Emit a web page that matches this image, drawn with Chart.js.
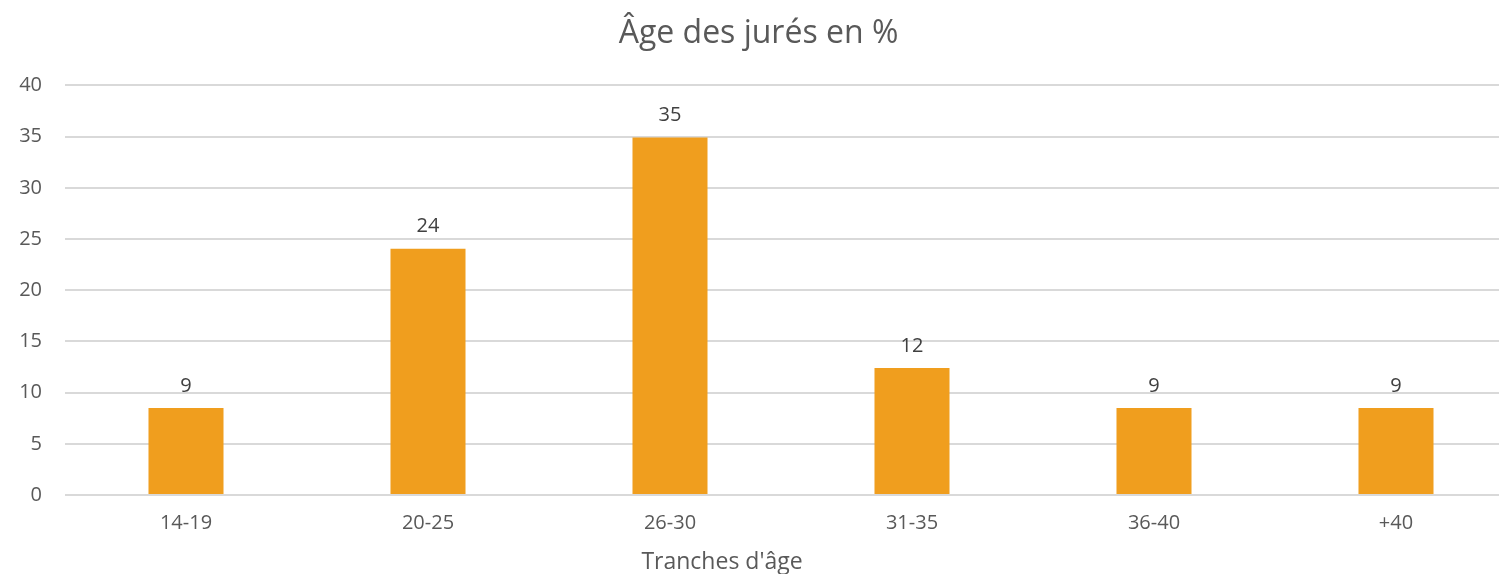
<!DOCTYPE html>
<html>
<head>
<meta charset="utf-8">
<script src="https://cdn.jsdelivr.net/npm/chart.js@4"></script>
<style>
  html, body { margin: 0; padding: 0; background: #fff; overflow: hidden; }
  #wrap { width: 1499px; height: 574px; overflow: hidden; }
</style>
</head>
<body>
<div id="wrap"><canvas id="myChart" width="1517" height="574"></canvas></div>
<script>
// data
const ageGroups = ['14-19', '20-25', '26-30', '31-35', '36-40', '+40'];
const jurorShare = [8.5, 24.05, 34.9, 12.4, 8.5, 8.5];
const yTicks = [0, 5, 10, 15, 20, 25, 30, 35, 40];
const xTitle = "Tranches d'âge";

const textColor = '#595959';
const fontName = "'Open Sans', 'Liberation Sans', sans-serif";

// draws the rounded value above each bar, plus the x axis title
// (the x title sits left of the plot centre in the original, so it is drawn by hand)
const barLabels = {
  id: 'barLabels',
  afterDatasetsDraw(chart) {
    const ctx = chart.ctx;
    const meta = chart.getDatasetMeta(0);
    ctx.save();
    ctx.font = '20px ' + fontName;
    ctx.fillStyle = '#404040';
    ctx.textAlign = 'center';
    ctx.textBaseline = 'bottom';
    meta.data.forEach((bar, i) => {
      let val = Math.round(chart.data.datasets[0].data[i]);
      ctx.fillText(val, bar.x, bar.y - 12);
    });

    const xScale = chart.scales.x;
    ctx.font = '23px ' + fontName;
    ctx.fillStyle = textColor;
    ctx.textBaseline = 'middle';
    ctx.fillText(xTitle, 722, xScale.bottom + 19.5);
    ctx.restore();
  }
};

const data = {
  labels: ageGroups,
  datasets: [{
    label: 'Âge des jurés en %',
    data: jurorShare,
    backgroundColor: '#F09E1E',
    borderWidth: 0,
    barPercentage: 0.31,
    categoryPercentage: 1
  }]
};

const config = {
  type: 'bar',
  data: data,
  plugins: [barLabels],
  options: {
    responsive: false,
    animation: false,
    layout: { padding: { left: 0, right: 0, top: 0, bottom: 31 } },
    plugins: {
      legend: { display: false },
      tooltip: { enabled: false },
      title: {
        display: true,
        text: 'Âge des jurés en %',
        color: textColor,
        font: { family: fontName, size: 32, weight: 'normal', lineHeight: 1.2 },
        padding: { top: 15, bottom: 32 }
      }
    },
    scales: {
      x: {
        grid: { display: false },
        border: { display: false },
        ticks: { color: textColor, font: { family: fontName, size: 20 }, padding: 8 }
      },
      y: {
        min: 0,
        max: 40,
        afterBuildTicks: axis => { axis.ticks = yTicks.map(v => ({ value: v })); },
        afterFit: axis => { axis.width = 65; },
        grid: { color: '#D9D9D9', lineWidth: 2, drawTicks: false },
        border: { display: false },
        ticks: { color: textColor, font: { family: fontName, size: 20 }, padding: 23 }
      }
    }
  }
};

new Chart(document.getElementById('myChart'), config);
</script>
</body>
</html>
